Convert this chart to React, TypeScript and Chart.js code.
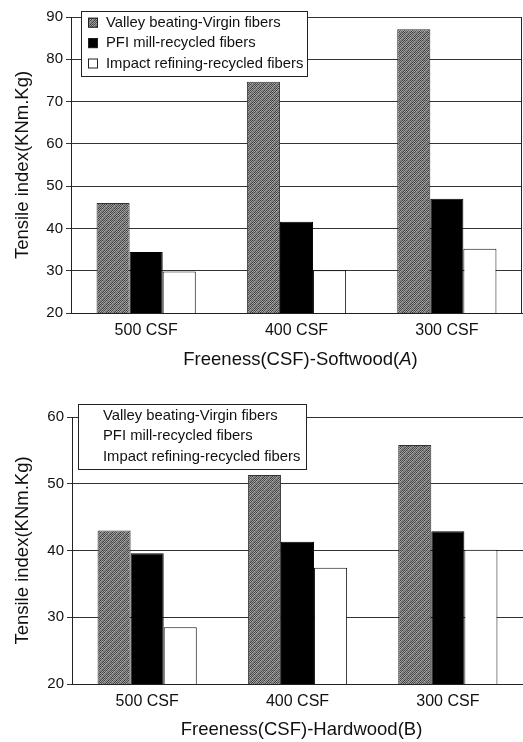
import React, { useEffect, useRef } from 'react';
import { Chart, registerables } from 'chart.js';

Chart.register(...registerables);

const categories = ['500 CSF', '400 CSF', '300 CSF'];
const seriesNames = [
  'Valley beating-Virgin fibers',
  'PFI mill-recycled fibers',
  'Impact refining-recycled fibers',
];

const softwoodValley = [46.0, 74.7, 87.1];
const softwoodPFI = [34.4, 41.6, 47.0];
const softwoodImpact = [29.8, 30.1, 35.2];

const hardwoodValley = [43.0, 51.3, 55.8];
const hardwoodPFI = [39.6, 41.3, 42.9];
const hardwoodImpact = [28.5, 37.4, 40.1];

const softwoodTicks = [20, 30, 40, 50, 60, 70, 80, 90];
const hardwoodTicks = [20, 30, 40, 50, 60];

const FONT = '"Liberation Sans", Arial, Helvetica, sans-serif';

function makeStipple(): CanvasPattern | string {
  const n = 8;
  const c = document.createElement('canvas');
  c.width = n;
  c.height = n;
  const g = c.getContext('2d');
  if (!g) return '#707070';
  const dark = ['#3c3c3c', '#4a4a4a', '#444444', '#525252'];
  const light = ['#9c9c9c', '#a6a6a6', '#909090', '#acacac'];
  const mid = ['#787878', '#848484', '#6c6c6c', '#8a8a8a'];
  for (let y = 0; y < n; y++) {
    for (let x = 0; x < n; x++) {
      const diag = (x + y) % n;
      let col: string;
      if (diag < 2) col = mid[(x * 3 + y) % 4];
      else if ((x + y) % 2 === 0) col = dark[(x + 2 * y) % 4];
      else col = light[(2 * x + y) % 4];
      g.fillStyle = col;
      g.fillRect(x, y, 1, 1);
    }
  }
  const p = g.createPattern(c, 'repeat');
  return p || '#707070';
}

type PanelProps = {
  height: number;
  valley: number[];
  pfi: number[];
  impact: number[];
  ticks: number[];
  titleMain: string;
  titleLetter: string;
  italicLetter: boolean;
  swatches: boolean;
  legendBox: { x: number; y: number; w: number; h: number };
  paddingTop: number;
  paddingRight: number;
  yAxisWidth: number;
  xAxisHeight: number;
  rightBorder: boolean;
};

function Panel(props: PanelProps) {
  const ref = useRef<HTMLCanvasElement | null>(null);

  useEffect(() => {
    const canvas = ref.current;
    if (!canvas) return;
    const stipple = makeStipple();

    const overlay = {
      id: 'overlay',
      afterDraw(chart: any) {
        const ctx = chart.ctx as CanvasRenderingContext2D;
        const area = chart.chartArea;
        ctx.save();
        if (props.rightBorder) {
          ctx.strokeStyle = '#222';
          ctx.lineWidth = 1;
          ctx.beginPath();
          ctx.moveTo(Math.round(area.right) - 0.5, area.top);
          ctx.lineTo(Math.round(area.right) - 0.5, area.bottom);
          ctx.stroke();
        }
        const b = props.legendBox;
        ctx.fillStyle = '#ffffff';
        ctx.fillRect(b.x, b.y, b.w, b.h);
        ctx.strokeStyle = '#222';
        ctx.lineWidth = 1;
        ctx.strokeRect(b.x + 0.5, b.y + 0.5, b.w, b.h);
        ctx.font = `14.8px ${FONT}`;
        ctx.textBaseline = 'middle';
        ctx.textAlign = 'left';
        chart.data.datasets.forEach((ds: any, i: number) => {
          const rowY = b.y + 11.7 + i * 20.4;
          if (props.swatches) {
            ctx.fillStyle = ds.backgroundColor;
            ctx.fillRect(b.x + 7, rowY - 5, 10, 10);
            ctx.strokeStyle = '#222';
            ctx.strokeRect(b.x + 7.5, rowY - 4.5, 9, 9);
          }
          ctx.fillStyle = '#111';
          ctx.fillText(ds.label, b.x + 25, rowY);
        });
        const cx = (area.left + area.right) / 2 + 4;
        const ty = 360;
        const normalFont = `18.5px ${FONT}`;
        const letterFont = props.italicLetter ? `italic 18.5px ${FONT}` : normalFont;
        const p1 = props.titleMain + '(';
        const p2 = props.titleLetter;
        const p3 = ')';
        ctx.font = normalFont;
        const w1 = ctx.measureText(p1).width;
        const w3 = ctx.measureText(p3).width;
        ctx.font = letterFont;
        const w2 = ctx.measureText(p2).width;
        let x = cx - (w1 + w2 + w3) / 2;
        ctx.fillStyle = '#111';
        ctx.font = normalFont;
        ctx.fillText(p1, x, ty);
        x += w1;
        ctx.font = letterFont;
        ctx.fillText(p2, x, ty);
        x += w2;
        ctx.font = normalFont;
        ctx.fillText(p3, x, ty);
        ctx.restore();
      },
    };

    const chart = new Chart(canvas, {
      type: 'bar',
      data: {
        labels: categories,
        datasets: [
          {
            label: seriesNames[0],
            data: props.valley,
            backgroundColor: stipple as any,
            borderColor: '#333',
            borderWidth: 1,
          },
          {
            label: seriesNames[1],
            data: props.pfi,
            backgroundColor: '#000000',
            borderColor: '#000000',
            borderWidth: 1,
          },
          {
            label: seriesNames[2],
            data: props.impact,
            backgroundColor: '#ffffff',
            borderColor: '#111111',
            borderWidth: 1,
          },
        ],
      },
      options: {
        responsive: false,
        animation: false,
        devicePixelRatio: 1,
        layout: {
          padding: { left: 0, top: props.paddingTop, right: props.paddingRight, bottom: 0 },
        },
        datasets: {
          bar: {
            categoryPercentage: 0.66,
            barPercentage: 1.0,
          },
        },
        plugins: {
          legend: { display: false },
          tooltip: { enabled: false },
          title: { display: false },
        },
        scales: {
          x: {
            grid: { display: false, drawTicks: false },
            border: { display: true, color: '#222', width: 1 },
            ticks: {
              color: '#111',
              font: { family: FONT, size: 16 },
              padding: 8,
            },
            afterFit: (s: any) => {
              s.height = props.xAxisHeight;
            },
          },
          y: {
            min: props.ticks[0],
            max: props.ticks[props.ticks.length - 1],
            afterBuildTicks: (s: any) => {
              s.ticks = props.ticks.map((v) => ({ value: v }));
            },
            grid: {
              color: '#333',
              lineWidth: 1,
              tickLength: 5,
              drawTicks: true,
            },
            border: { display: true, color: '#222', width: 1 },
            ticks: {
              color: '#111',
              font: { family: FONT, size: 15 },
              padding: 3,
            },
            title: {
              display: true,
              text: 'Tensile index(KNm.Kg)',
              color: '#111',
              font: { family: FONT, size: 18.5 },
              padding: { top: 12, bottom: 0 },
            },
            afterFit: (s: any) => {
              s.width = props.yAxisWidth;
            },
          },
        },
      },
      plugins: [overlay],
    });

    return () => {
      chart.destroy();
    };
  }, []);

  return (
    <canvas
      ref={ref}
      width={523}
      height={props.height}
      style={{ display: 'block', width: 523, height: props.height }}
    />
  );
}

export default function App() {
  useEffect(() => {
    document.body.style.margin = '0';
    document.body.style.background = '#ffffff';
  }, []);
  return (
    <div style={{ width: 523, height: 742, background: '#fff' }}>
      <Panel
        height={370}
        valley={softwoodValley}
        pfi={softwoodPFI}
        impact={softwoodImpact}
        ticks={softwoodTicks}
        titleMain="Freeness(CSF)-Softwood"
        titleLetter="A"
        italicLetter={true}
        swatches={true}
        legendBox={{ x: 81, y: 11, w: 226, h: 65 }}
        paddingTop={17}
        paddingRight={1}
        yAxisWidth={71}
        xAxisHeight={57}
        rightBorder={true}
      />
      <Panel
        height={372}
        valley={hardwoodValley}
        pfi={hardwoodPFI}
        impact={hardwoodImpact}
        ticks={hardwoodTicks}
        titleMain="Freeness(CSF)-Hardwood"
        titleLetter="B"
        italicLetter={false}
        swatches={false}
        legendBox={{ x: 78, y: 34, w: 228, h: 65 }}
        paddingTop={47}
        paddingRight={0}
        yAxisWidth={72}
        xAxisHeight={58}
        rightBorder={false}
      />
    </div>
  );
}
